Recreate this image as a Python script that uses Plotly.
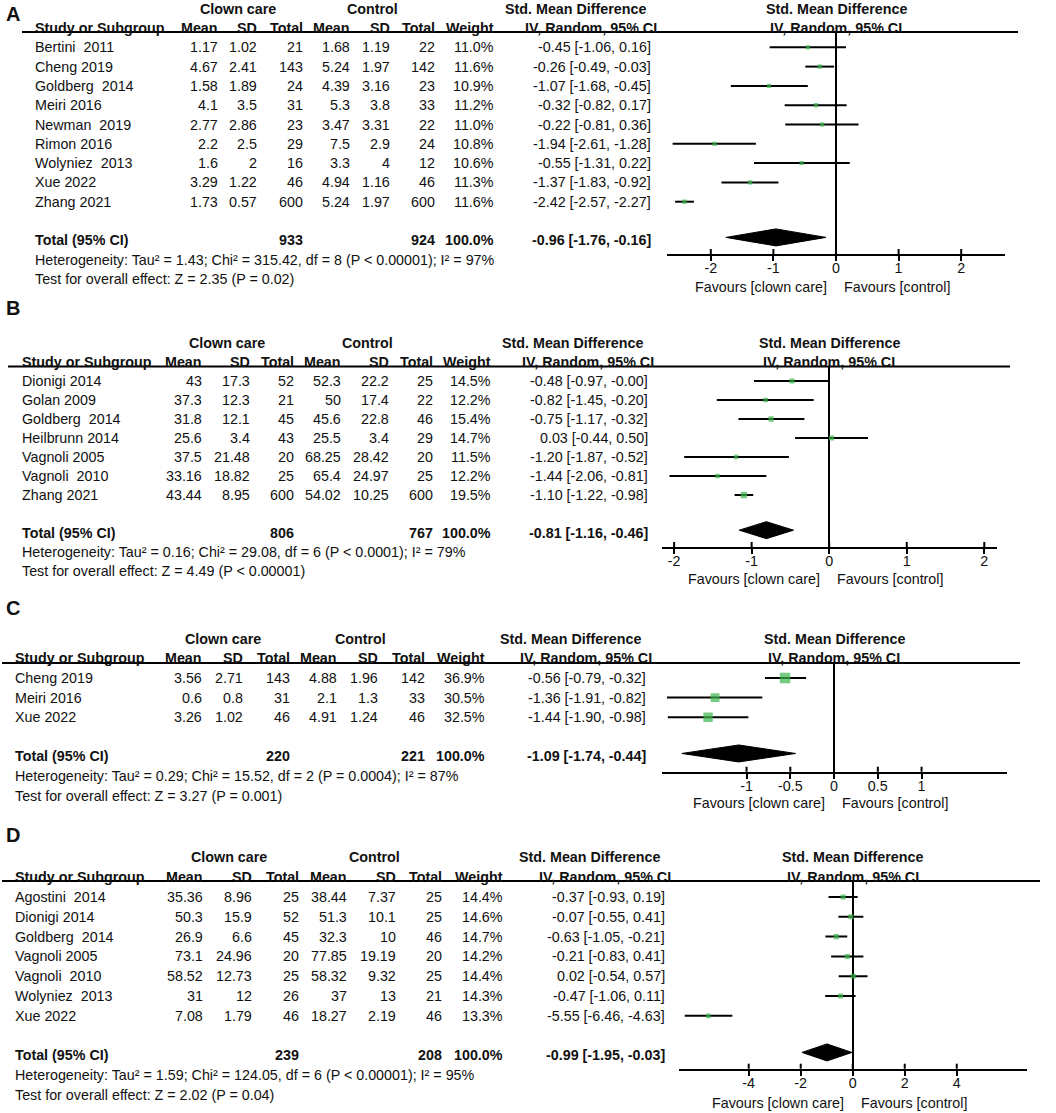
import plotly.graph_objects as go

W, H = 1056, 1113
FONT = "Liberation Sans, Arial, sans-serif"
GREEN = "#3bb54a"
INK = "#111111"

# ---------------- Panel A ----------------
a_studies = ["Bertini  2011", "Cheng 2019", "Goldberg  2014", "Meiri 2016", "Newman  2019",
             "Rimon 2016", "Wolyniez  2013", "Xue 2022", "Zhang 2021"]
a_cc_mean = [1.17, 4.67, 1.58, 4.1, 2.77, 2.2, 1.6, 3.29, 1.73]
a_cc_sd = [1.02, 2.41, 1.89, 3.5, 2.86, 2.5, 2, 1.22, 0.57]
a_cc_n = [21, 143, 24, 31, 23, 29, 16, 46, 600]
a_ct_mean = [1.68, 5.24, 4.39, 5.3, 3.47, 7.5, 3.3, 4.94, 5.24]
a_ct_sd = [1.19, 1.97, 3.16, 3.8, 3.31, 2.9, 4, 1.16, 1.97]
a_ct_n = [22, 142, 23, 33, 22, 24, 12, 46, 600]
a_weight = [11.0, 11.6, 10.9, 11.2, 11.0, 10.8, 10.6, 11.3, 11.6]
a_smd = [-0.45, -0.26, -1.07, -0.32, -0.22, -1.94, -0.55, -1.37, -2.42]
a_lo = [-1.06, -0.49, -1.68, -0.82, -0.81, -2.61, -1.31, -1.83, -2.57]
a_hi = [0.16, -0.03, -0.45, 0.17, 0.36, -1.28, 0.22, -0.92, -2.27]
a_totals = [933, 924]
a_pooled = [-0.96, -1.76, -0.16]
a_het = "Heterogeneity: Tau² = 1.43; Chi² = 315.42, df = 8 (P < 0.00001); I² = 97%"
a_test = "Test for overall effect: Z = 2.35 (P = 0.02)"
a_ticks = [-2, -1, 0, 1, 2]

# ---------------- Panel B ----------------
b_studies = ["Dionigi 2014", "Golan 2009", "Goldberg  2014", "Heilbrunn 2014",
             "Vagnoli 2005", "Vagnoli  2010", "Zhang 2021"]
b_cc_mean = [43, 37.3, 31.8, 25.6, 37.5, 33.16, 43.44]
b_cc_sd = [17.3, 12.3, 12.1, 3.4, 21.48, 18.82, 8.95]
b_cc_n = [52, 21, 45, 43, 20, 25, 600]
b_ct_mean = [52.3, 50, 45.6, 25.5, 68.25, 65.4, 54.02]
b_ct_sd = [22.2, 17.4, 22.8, 3.4, 28.42, 24.97, 10.25]
b_ct_n = [25, 22, 46, 29, 20, 25, 600]
b_weight = [14.5, 12.2, 15.4, 14.7, 11.5, 12.2, 19.5]
b_smd = [-0.48, -0.82, -0.75, 0.03, -1.20, -1.44, -1.10]
b_lo = [-0.97, -1.45, -1.17, -0.44, -1.87, -2.06, -1.22]
b_hi = [-0.0, -0.20, -0.32, 0.50, -0.52, -0.81, -0.98]
b_totals = [806, 767]
b_pooled = [-0.81, -1.16, -0.46]
b_het = "Heterogeneity: Tau² = 0.16; Chi² = 29.08, df = 6 (P < 0.0001); I² = 79%"
b_test = "Test for overall effect: Z = 4.49 (P < 0.00001)"
b_ticks = [-2, -1, 0, 1, 2]

# ---------------- Panel C ----------------
c_studies = ["Cheng 2019", "Meiri 2016", "Xue 2022"]
c_cc_mean = [3.56, 0.6, 3.26]
c_cc_sd = [2.71, 0.8, 1.02]
c_cc_n = [143, 31, 46]
c_ct_mean = [4.88, 2.1, 4.91]
c_ct_sd = [1.96, 1.3, 1.24]
c_ct_n = [142, 33, 46]
c_weight = [36.9, 30.5, 32.5]
c_smd = [-0.56, -1.36, -1.44]
c_lo = [-0.79, -1.91, -1.90]
c_hi = [-0.32, -0.82, -0.98]
c_totals = [220, 221]
c_pooled = [-1.09, -1.74, -0.44]
c_het = "Heterogeneity: Tau² = 0.29; Chi² = 15.52, df = 2 (P = 0.0004); I² = 87%"
c_test = "Test for overall effect: Z = 3.27 (P = 0.001)"
c_ticks = [-1, -0.5, 0, 0.5, 1]

# ---------------- Panel D ----------------
d_studies = ["Agostini  2014", "Dionigi 2014", "Goldberg  2014", "Vagnoli 2005",
             "Vagnoli  2010", "Wolyniez  2013", "Xue 2022"]
d_cc_mean = [35.36, 50.3, 26.9, 73.1, 58.52, 31, 7.08]
d_cc_sd = [8.96, 15.9, 6.6, 24.96, 12.73, 12, 1.79]
d_cc_n = [25, 52, 45, 20, 25, 26, 46]
d_ct_mean = [38.44, 51.3, 32.3, 77.85, 58.32, 37, 18.27]
d_ct_sd = [7.37, 10.1, 10, 19.19, 9.32, 13, 2.19]
d_ct_n = [25, 25, 46, 20, 25, 21, 46]
d_weight = [14.4, 14.6, 14.7, 14.2, 14.4, 14.3, 13.3]
d_smd = [-0.37, -0.07, -0.63, -0.21, 0.02, -0.47, -5.55]
d_lo = [-0.93, -0.55, -1.05, -0.83, -0.54, -1.06, -6.46]
d_hi = [0.19, 0.41, -0.21, 0.41, 0.57, 0.11, -4.63]
d_totals = [239, 208]
d_pooled = [-0.99, -1.95, -0.03]
d_het = "Heterogeneity: Tau² = 1.59; Chi² = 124.05, df = 6 (P < 0.00001); I² = 95%"
d_test = "Test for overall effect: Z = 2.02 (P = 0.04)"
d_ticks = [-4, -2, 0, 2, 4]

col_headers = ["Mean", "SD", "Total", "Mean", "SD", "Total", "Weight"]

data_sets = [
    dict(studies=a_studies, cm=a_cc_mean, cs=a_cc_sd, cn=a_cc_n, tm=a_ct_mean, ts=a_ct_sd, tn=a_ct_n,
         w=a_weight, smd=a_smd, lo=a_lo, hi=a_hi, tot=a_totals, pool=a_pooled, het=a_het, test=a_test, ticks=a_ticks),
    dict(studies=b_studies, cm=b_cc_mean, cs=b_cc_sd, cn=b_cc_n, tm=b_ct_mean, ts=b_ct_sd, tn=b_ct_n,
         w=b_weight, smd=b_smd, lo=b_lo, hi=b_hi, tot=b_totals, pool=b_pooled, het=b_het, test=b_test, ticks=b_ticks),
    dict(studies=c_studies, cm=c_cc_mean, cs=c_cc_sd, cn=c_cc_n, tm=c_ct_mean, ts=c_ct_sd, tn=c_ct_n,
         w=c_weight, smd=c_smd, lo=c_lo, hi=c_hi, tot=c_totals, pool=c_pooled, het=c_het, test=c_test, ticks=c_ticks),
    dict(studies=d_studies, cm=d_cc_mean, cs=d_cc_sd, cn=d_cc_n, tm=d_ct_mean, ts=d_ct_sd, tn=d_ct_n,
         w=d_weight, smd=d_smd, lo=d_lo, hi=d_hi, tot=d_totals, pool=d_pooled, het=d_het, test=d_test, ticks=d_ticks),
]

# layout (pixel geometry) of each panel
layouts = [
    dict(label="A", label_y=14, y0=47.3, s=19.3, hline_y=32, axis_y=254, line_x=(22, 1018),
         cols=[33, 220, 259, 305, 352, 392, 437, 496, 653], grp=(238, 372),
         xdom=(667, 1005), xrange=(-2.7, 2.7), fav_dy=33),
    dict(label="B", label_y=308, y0=381, s=19.0, hline_y=366.5, axis_y=547, line_x=(8, 1010),
         cols=[20, 204, 252, 296, 343, 391, 435, 493, 650], grp=(227, 367),
         xdom=(661.7, 996.7), xrange=(-2.16, 2.16), fav_dy=32),
    dict(label="C", label_y=608, y0=678, s=19.6, hline_y=663, axis_y=771.7, line_x=(2, 1020),
         cols=[13, 204, 245, 292, 339, 380, 427, 487, 648], grp=(223, 360),
         xdom=(661.7, 1007.3), xrange=(-1.97, 1.98), fav_dy=31),
    dict(label="D", label_y=835, y0=897, s=19.8, hline_y=881, axis_y=1068.7, line_x=(2, 1040),
         cols=[13, 205, 254, 301, 349, 398, 444, 505, 667], grp=(229, 374),
         xdom=(679, 1026.7), xrange=(-6.68, 6.69), fav_dy=34),
]

FS = 14.3


def px(x):
    return x / W


def py(y):
    return 1 - y / H


def fmt(v):
    return f"{v:g}"


def ci(e, l, h):
    return f"{e:.2f} [{l:.2f}, {h:.2f}]"


fig = go.Figure()
annotations = []
shapes = []
layout_axes = {}


def txt(text, x, y, xref="paper", anchor="left", size=FS, bold=False, **kw):
    if bold:
        text = f"<b>{text}</b>"
    annotations.append(dict(text=text, x=x, y=y, xref=xref, yref="paper", xanchor=anchor,
                            yanchor="middle", showarrow=False,
                            font=dict(family=FONT, size=size, color=INK), **kw))


for k, (d, L) in enumerate(zip(data_sets, layouts), start=1):
    xa = "x" if k == 1 else f"x{k}"
    ya = "y" if k == 1 else f"y{k}"
    n = len(d["studies"])
    s = L["s"]
    r_top = (L["hline_y"] - L["y0"]) / s
    r_bot = (L["axis_y"] - L["y0"]) / s
    dom_px = L["axis_y"] - L["hline_y"]

    def ry(r):
        return py(L["y0"] + r * s)

    layout_axes["xaxis" if k == 1 else f"xaxis{k}"] = dict(
        domain=[px(L["xdom"][0]), px(L["xdom"][1])], range=list(L["xrange"]), anchor=ya,
        tickmode="array", tickvals=d["ticks"], ticktext=[fmt(t) for t in d["ticks"]],
        ticks="outside", ticklen=5, tickwidth=2, tickcolor="black", ticklabelstandoff=-5,
        showline=True, linewidth=2, linecolor="black",
        zeroline=True, zerolinewidth=2, zerolinecolor="black",
        showgrid=False, fixedrange=True,
        tickfont=dict(family=FONT, size=FS, color=INK))
    layout_axes["yaxis" if k == 1 else f"yaxis{k}"] = dict(
        domain=[py(L["axis_y"]), py(L["hline_y"])], range=[r_bot, r_top], anchor=xa,
        visible=False, fixedrange=True)

    rows = list(range(n))
    # CI lines
    lx, lyv = [], []
    for i in rows:
        lx += [d["lo"][i], d["hi"][i], None]
        lyv += [i, i, None]
    fig.add_trace(go.Scatter(x=lx, y=lyv, mode="lines", xaxis=xa, yaxis=ya,
                             line=dict(color="black", width=2), hoverinfo="skip", showlegend=False))
    # weight squares
    fig.add_trace(go.Scatter(x=d["smd"], y=rows, mode="markers", xaxis=xa, yaxis=ya,
                             marker=dict(symbol="square", color=GREEN,
                                         size=[1.6 + 0.24 * w for w in d["w"]], line=dict(width=0)),
                             showlegend=False))
    # pooled diamond
    tr = n + 1
    hh = 8.5 / s
    e, l, h = d["pool"]
    dy = tr - 0.15
    fig.add_trace(go.Scatter(x=[l, e, h, e, l], y=[dy, dy - hh, dy, dy + hh, dy],
                             mode="lines", fill="toself", fillcolor="black", line=dict(color="black", width=1),
                             xaxis=xa, yaxis=ya, hoverinfo="skip", showlegend=False))

    # upward half of ticks
    for t in d["ticks"]:
        shapes.append(dict(type="line", xref=xa, yref=f"{ya} domain", x0=t, x1=t, y0=0,
                           y1=5 / dom_px, line=dict(color="black", width=2)))
    # header rule
    shapes.append(dict(type="line", xref="paper", yref="paper", x0=px(L["line_x"][0]),
                       x1=px(L["line_x"][1]), y0=py(L["hline_y"]), y1=py(L["hline_y"]),
                       line=dict(color="black", width=2)))

    c = L["cols"]
    # panel label
    txt(L["label"], px(13), py(L["label_y"]), anchor="center", size=20, bold=True)
    # group headers
    txt("Clown care", px(L["grp"][0]), ry(-2), anchor="center", bold=True)
    txt("Control", px(L["grp"][1]), ry(-2), anchor="center", bold=True)
    txt("Std. Mean Difference", px(c[8] - 5), ry(-2), anchor="right", bold=True)
    txt("Std. Mean Difference", 0, ry(-2), xref=xa, anchor="center", bold=True)
    # column headers
    txt("Study or Subgroup", px(c[0]), ry(-1), bold=True)
    for j, hd in enumerate(col_headers):
        txt(hd, px(c[j + 1]), ry(-1), anchor="right", bold=True)
    txt("IV, Random, 95% CI", px(c[8] + 6), ry(-1), anchor="right", bold=True)
    txt("IV, Random, 95% CI", 0, ry(-1), xref=xa, anchor="center", bold=True)

    # study rows
    for i in rows:
        txt(d["studies"][i], px(c[0]), ry(i))
        vals = [fmt(d["cm"][i]), fmt(d["cs"][i]), str(d["cn"][i]),
                fmt(d["tm"][i]), fmt(d["ts"][i]), str(d["tn"][i]), f"{d['w'][i]:.1f}%",
                ci(d["smd"][i], d["lo"][i], d["hi"][i])]
        for j, v in enumerate(vals):
            txt(v, px(c[j + 1]), ry(i), anchor="right")

    # total row
    txt("Total (95% CI)", px(c[0]), ry(tr), bold=True)
    txt(str(d["tot"][0]), px(c[3]), ry(tr), anchor="right", bold=True)
    txt(str(d["tot"][1]), px(c[6]), ry(tr), anchor="right", bold=True)
    txt("100.0%", px(c[7]), ry(tr), anchor="right", bold=True)
    txt(ci(e, l, h), px(c[8]), ry(tr), anchor="right", bold=True)
    txt(d["het"], px(c[0]), ry(n + 2))
    txt(d["test"], px(c[0]), ry(n + 3))

    # favours labels
    fy = py(L["axis_y"] + L["fav_dy"])
    txt("Favours [clown care]", 0, fy, xref=xa, anchor="right", xshift=-7)
    txt("Favours [control]", 0, fy, xref=xa, anchor="left", xshift=6)

fig.update_layout(
    width=W, height=H, margin=dict(l=0, r=0, t=0, b=0),
    paper_bgcolor="white", plot_bgcolor="white", showlegend=False,
    annotations=annotations, shapes=shapes,
    font=dict(family=FONT, size=FS, color=INK),
    **layout_axes)

fig.write_html("out.html", config={"displayModeBar": False},
               post_script="document.body.style.margin='0px';")
